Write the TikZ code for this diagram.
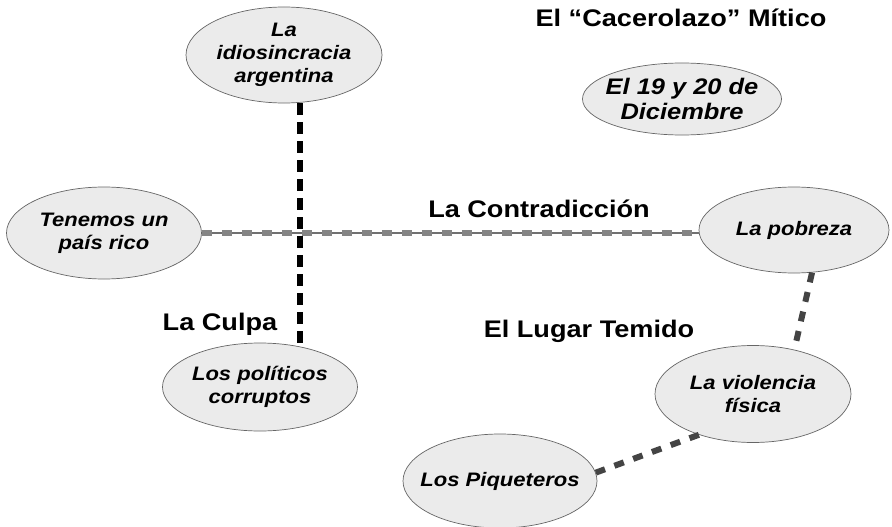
\documentclass[tikz,border=0pt]{standalone}
\usepackage{fontspec}
\newfontfamily\lsf[FakeStretch=1.13]{Liberation Sans}
\usetikzlibrary{shapes.geometric}
\definecolor{ellfill}{HTML}{EBEBEB}
\definecolor{ellline}{HTML}{666666}
\definecolor{dgray}{HTML}{444444}
\definecolor{mgray}{HTML}{858585}
\definecolor{lgray}{HTML}{707070}
\tikzset{
  ell/.style={ellipse, draw=ellline, line width=0.7pt, fill=ellfill, inner sep=-12pt,
    align=center, font=\fontsize{19.5}{23}\lsf\bfseries\itshape},
  bigell/.style={ell, inner sep=-12pt, font=\fontsize{22.5}{25}\lsf\bfseries\itshape},
  heading/.style={anchor=base, inner sep=0pt, font=\fontsize{24}{28}\lsf\bfseries},
  blackdash/.style={line width=6pt, draw=black, dash pattern=on 12pt off 7pt},
  darkdash/.style={line width=6pt, draw=dgray, dash pattern=on 10pt off 10pt},
  grayline/.style={line width=1.6pt, draw=lgray},
  graydash/.style={line width=6pt, draw=mgray, dash pattern=on 10pt off 10pt}
}
\begin{document}
\begin{tikzpicture}[x=1pt,y=-1pt]
\fill[white] (0,0) rectangle (892,527);
\useasboundingbox (0,0) rectangle (892,527);

\node[ell, minimum width=196pt, minimum height=96pt] (idio) at (284,55) {La\\idiosincracia\\argentina};
\node[ell, minimum width=195pt, minimum height=92pt] (ten) at (104,233) {Tenemos un\\país rico};
\node[ell, minimum width=190pt, minimum height=86pt] (pob) at (794,230) {La pobreza};
\node[ell, minimum width=195pt, minimum height=88pt] (pol) at (260,387) {Los políticos\\corruptos};
\node[ell, minimum width=196pt, minimum height=97pt] (vio) at (753,394) {La violencia\\física};
\node[ell, minimum width=194pt, minimum height=94pt] (piq) at (500,481) {Los Piqueteros};
\node[bigell, minimum width=199pt, minimum height=72pt] (dic) at (682,99) {El 19 y 20 de\\Diciembre};

\node[heading] (t1) at (681,27) {El “Cacerolazo” Mítico};
\node[heading] (t2) at (539,217) {La Contradicción};
\node[heading] (t3) at (220,330) {La Culpa};
\node[heading] (t4) at (589,337) {El Lugar Temido};

\coordinate (vx) at (300,0);
\draw[grayline] (ten.east) -- (ten.east -| pob.west);
\draw[graydash] (ten.east) -- (ten.east -| pob.west);
\draw[blackdash] (idio.south -| vx) -- (pol.north -| vx);
\draw[darkdash] (pob.-67) -- (vio.47);
\draw[darkdash] (vio.217) -- (piq.5);
\end{tikzpicture}
\end{document}
